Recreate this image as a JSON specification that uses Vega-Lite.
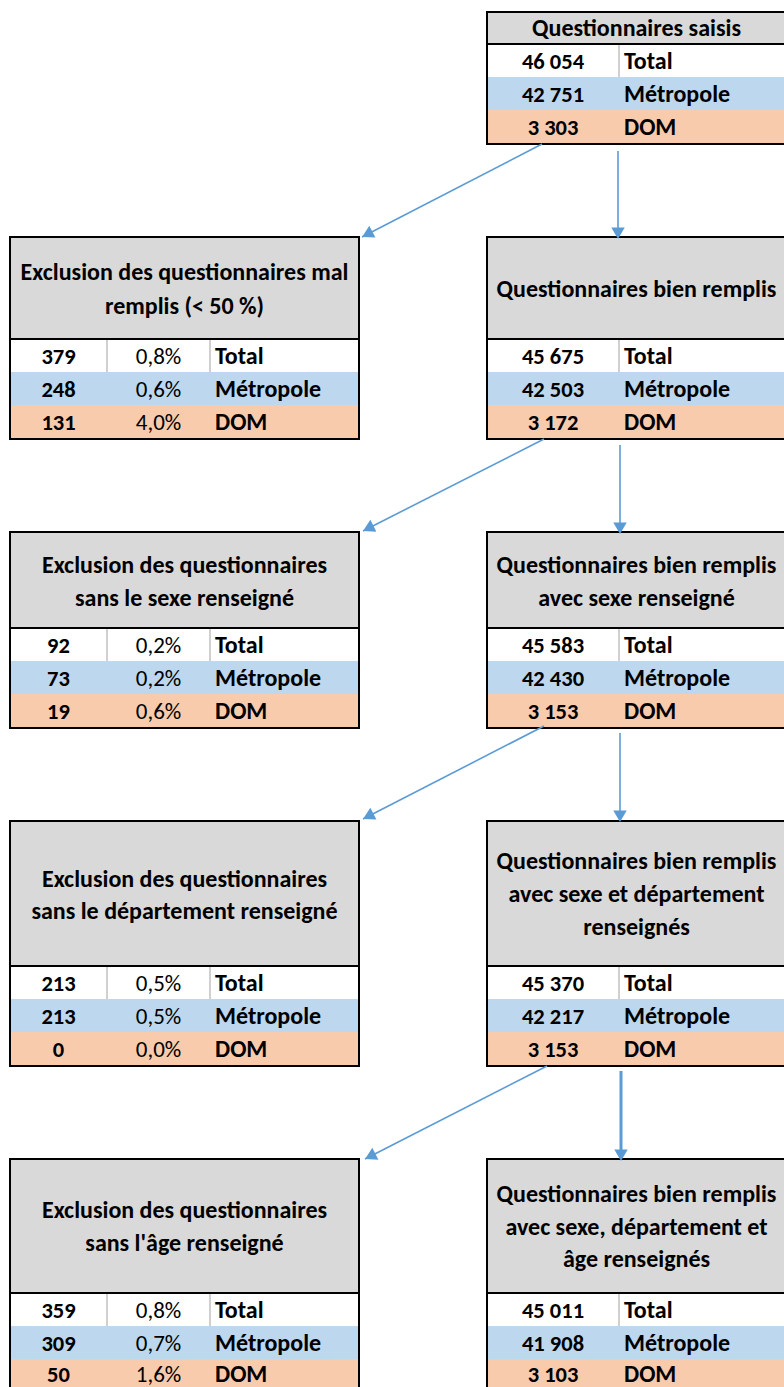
{
  "$schema": "https://vega.github.io/schema/vega-lite/v6.json",
  "width": 784,
  "height": 1387,
  "autosize": "none",
  "padding": 0,
  "background": "white",
  "config": {
    "view": {"stroke": null},
    "locale": {"number": {"decimal": ",", "thousands": " ", "grouping": [3], "currency": ["", " €"]}},
    "text": {"font": "Carlito, Lato", "fontSize": 24, "color": "#000000"}
  },
  "datasets": {
    "cols": [
      {"side": "left", "x0": 10, "x1": 359, "xn": 58.5, "xp": 158.5, "xl": 215, "xh": 184.5, "d1": 107, "d2": 210},
      {"side": "right", "x0": 487, "x1": 786, "xn": 553, "xl": 624, "xh": 636.5, "d1": 619}
    ],
    "boxes": [
      {"stage": 1, "side": "right", "top": 12, "hdr": 44, "bottom": 144},
      {"stage": 2, "side": "left", "top": 237, "hdr": 339, "bottom": 439},
      {"stage": 2, "side": "right", "top": 237, "hdr": 339, "bottom": 439},
      {"stage": 3, "side": "left", "top": 532, "hdr": 628, "bottom": 728},
      {"stage": 3, "side": "right", "top": 532, "hdr": 628, "bottom": 728},
      {"stage": 4, "side": "left", "top": 821, "hdr": 966, "bottom": 1066},
      {"stage": 4, "side": "right", "top": 821, "hdr": 966, "bottom": 1066},
      {"stage": 5, "side": "left", "top": 1159, "hdr": 1293, "bottom": 1392},
      {"stage": 5, "side": "right", "top": 1159, "hdr": 1293, "bottom": 1392}
    ],
    "headers": [
      {"stage": 1, "side": "right", "line": "Questionnaires saisis", "y": 29},
      {"stage": 2, "side": "left", "line": "Exclusion des questionnaires mal", "y": 273},
      {"stage": 2, "side": "left", "line": "remplis (< 50 %)", "y": 307},
      {"stage": 2, "side": "right", "line": "Questionnaires bien remplis", "y": 290},
      {"stage": 3, "side": "left", "line": "Exclusion des questionnaires", "y": 566},
      {"stage": 3, "side": "left", "line": "sans le sexe renseigné", "y": 599},
      {"stage": 3, "side": "right", "line": "Questionnaires bien remplis", "y": 566},
      {"stage": 3, "side": "right", "line": "avec sexe renseigné", "y": 599},
      {"stage": 4, "side": "left", "line": "Exclusion des questionnaires", "y": 880},
      {"stage": 4, "side": "left", "line": "sans le département renseigné", "y": 912},
      {"stage": 4, "side": "right", "line": "Questionnaires bien remplis", "y": 862},
      {"stage": 4, "side": "right", "line": "avec sexe et département", "y": 895},
      {"stage": 4, "side": "right", "line": "renseignés", "y": 928},
      {"stage": 5, "side": "left", "line": "Exclusion des questionnaires", "y": 1211},
      {"stage": 5, "side": "left", "line": "sans l'âge renseigné", "y": 1244},
      {"stage": 5, "side": "right", "line": "Questionnaires bien remplis", "y": 1195},
      {"stage": 5, "side": "right", "line": "avec sexe, département et", "y": 1228},
      {"stage": 5, "side": "right", "line": "âge renseignés", "y": 1260}
    ],
    "figures": [
      {"stage": 1, "side": "right", "region": "Total", "n": 46054, "pct": null, "y0": 44, "y1": 77, "yc": 61.5},
      {"stage": 1, "side": "right", "region": "Métropole", "n": 42751, "pct": null, "y0": 77, "y1": 110, "yc": 94.5},
      {"stage": 1, "side": "right", "region": "DOM", "n": 3303, "pct": null, "y0": 110, "y1": 144, "yc": 128},
      {"stage": 2, "side": "left", "region": "Total", "n": 379, "pct": 0.008, "y0": 339, "y1": 372, "yc": 356.5},
      {"stage": 2, "side": "left", "region": "Métropole", "n": 248, "pct": 0.006, "y0": 372, "y1": 405, "yc": 389.5},
      {"stage": 2, "side": "left", "region": "DOM", "n": 131, "pct": 0.040, "y0": 405, "y1": 439, "yc": 423},
      {"stage": 2, "side": "right", "region": "Total", "n": 45675, "pct": null, "y0": 339, "y1": 372, "yc": 356.5},
      {"stage": 2, "side": "right", "region": "Métropole", "n": 42503, "pct": null, "y0": 372, "y1": 405, "yc": 389.5},
      {"stage": 2, "side": "right", "region": "DOM", "n": 3172, "pct": null, "y0": 405, "y1": 439, "yc": 423},
      {"stage": 3, "side": "left", "region": "Total", "n": 92, "pct": 0.002, "y0": 628, "y1": 661, "yc": 645.5},
      {"stage": 3, "side": "left", "region": "Métropole", "n": 73, "pct": 0.002, "y0": 661, "y1": 694, "yc": 678.5},
      {"stage": 3, "side": "left", "region": "DOM", "n": 19, "pct": 0.006, "y0": 694, "y1": 728, "yc": 712},
      {"stage": 3, "side": "right", "region": "Total", "n": 45583, "pct": null, "y0": 628, "y1": 661, "yc": 645.5},
      {"stage": 3, "side": "right", "region": "Métropole", "n": 42430, "pct": null, "y0": 661, "y1": 694, "yc": 678.5},
      {"stage": 3, "side": "right", "region": "DOM", "n": 3153, "pct": null, "y0": 694, "y1": 728, "yc": 712},
      {"stage": 4, "side": "left", "region": "Total", "n": 213, "pct": 0.005, "y0": 966, "y1": 999, "yc": 984},
      {"stage": 4, "side": "left", "region": "Métropole", "n": 213, "pct": 0.005, "y0": 999, "y1": 1032, "yc": 1017},
      {"stage": 4, "side": "left", "region": "DOM", "n": 0, "pct": 0.0, "y0": 1032, "y1": 1066, "yc": 1050},
      {"stage": 4, "side": "right", "region": "Total", "n": 45370, "pct": null, "y0": 966, "y1": 999, "yc": 984},
      {"stage": 4, "side": "right", "region": "Métropole", "n": 42217, "pct": null, "y0": 999, "y1": 1032, "yc": 1017},
      {"stage": 4, "side": "right", "region": "DOM", "n": 3153, "pct": null, "y0": 1032, "y1": 1066, "yc": 1050},
      {"stage": 5, "side": "left", "region": "Total", "n": 359, "pct": 0.008, "y0": 1293, "y1": 1326, "yc": 1310.5},
      {"stage": 5, "side": "left", "region": "Métropole", "n": 309, "pct": 0.007, "y0": 1326, "y1": 1359, "yc": 1343.5},
      {"stage": 5, "side": "left", "region": "DOM", "n": 50, "pct": 0.016, "y0": 1359, "y1": 1392, "yc": 1374.5},
      {"stage": 5, "side": "right", "region": "Total", "n": 45011, "pct": null, "y0": 1293, "y1": 1326, "yc": 1310.5},
      {"stage": 5, "side": "right", "region": "Métropole", "n": 41908, "pct": null, "y0": 1326, "y1": 1359, "yc": 1343.5},
      {"stage": 5, "side": "right", "region": "DOM", "n": 3103, "pct": null, "y0": 1359, "y1": 1392, "yc": 1374.5}
    ],
    "arrows": [
      {"stage": 1, "dir": "exclusion", "x": 542, "y": 144, "x2": 362, "y2": 237, "hx": 367.2, "hy": 234.3, "heading": 242.7},
      {"stage": 1, "dir": "down", "x": 618, "y": 151, "x2": 618, "y2": 237, "hx": 618, "hy": 233.2, "heading": 180},
      {"stage": 2, "dir": "exclusion", "x": 544, "y": 439, "x2": 363, "y2": 531, "hx": 368.2, "hy": 528.4, "heading": 243.1},
      {"stage": 2, "dir": "down", "x": 620, "y": 445, "x2": 620, "y2": 532, "hx": 620, "hy": 528.2, "heading": 180},
      {"stage": 3, "dir": "exclusion", "x": 544, "y": 726, "x2": 363, "y2": 819, "hx": 368.2, "hy": 816.3, "heading": 242.8},
      {"stage": 3, "dir": "down", "x": 620, "y": 733, "x2": 620, "y2": 820, "hx": 620, "hy": 816.2, "heading": 180},
      {"stage": 4, "dir": "exclusion", "x": 547, "y": 1066, "x2": 365, "y2": 1159, "hx": 370.2, "hy": 1156.4, "heading": 242.9},
      {"stage": 4, "dir": "down", "x": 621, "y": 1071, "x2": 621, "y2": 1158, "hx": 621, "hy": 1155.2, "heading": 180}
    ]
  },
  "layer": [
    {
      "data": {"name": "figures"},
      "transform": [{"lookup": "side", "from": {"data": {"name": "cols"}, "key": "side", "fields": ["x0", "x1"]}}],
      "mark": {"type": "rect", "clip": true},
      "encoding": {
        "x": {"field": "x0", "type": "quantitative", "scale": {"domain": [0, 784], "nice": false, "zero": false}, "axis": null},
        "x2": {"field": "x1"},
        "y": {"field": "y0", "type": "quantitative", "scale": {"domain": [0, 1387], "nice": false, "zero": false, "reverse": true}, "axis": null},
        "y2": {"field": "y1"},
        "color": {"field": "region", "type": "nominal", "scale": {"domain": ["Total", "Métropole", "DOM"], "range": ["#FFFFFF", "#BDD7EE", "#F8CBAD"]}, "legend": null}
      }
    },
    {
      "data": {"name": "boxes"},
      "transform": [{"lookup": "side", "from": {"data": {"name": "cols"}, "key": "side", "fields": ["x0", "x1"]}}],
      "mark": {"type": "rect", "clip": true, "fill": "#D9D9D9"},
      "encoding": {
        "x": {"field": "x0", "type": "quantitative"},
        "x2": {"field": "x1"},
        "y": {"field": "top", "type": "quantitative"},
        "y2": {"field": "hdr"}
      }
    },
    {
      "data": {"name": "figures"},
      "transform": [
        {"filter": "datum.region == 'Total'"},
        {"lookup": "side", "from": {"data": {"name": "cols"}, "key": "side", "fields": ["d1"]}}
      ],
      "mark": {"type": "rule", "clip": true, "color": "#D0D0D0", "strokeWidth": 2},
      "encoding": {
        "x": {"field": "d1", "type": "quantitative"},
        "y": {"field": "y0", "type": "quantitative"},
        "y2": {"field": "y1"}
      }
    },
    {
      "data": {"name": "figures"},
      "transform": [
        {"filter": "datum.region == 'Total' && datum.side == 'left'"},
        {"lookup": "side", "from": {"data": {"name": "cols"}, "key": "side", "fields": ["d2"]}}
      ],
      "mark": {"type": "rule", "clip": true, "color": "#D0D0D0", "strokeWidth": 2},
      "encoding": {
        "x": {"field": "d2", "type": "quantitative"},
        "y": {"field": "y0", "type": "quantitative"},
        "y2": {"field": "y1"}
      }
    },
    {
      "data": {"name": "boxes"},
      "transform": [{"lookup": "side", "from": {"data": {"name": "cols"}, "key": "side", "fields": ["x0", "x1"]}}],
      "mark": {"type": "rule", "clip": true, "color": "#000000", "strokeWidth": 2},
      "encoding": {
        "x": {"field": "x0", "type": "quantitative"},
        "x2": {"field": "x1"},
        "y": {"field": "hdr", "type": "quantitative"}
      }
    },
    {
      "data": {"name": "boxes"},
      "transform": [{"lookup": "side", "from": {"data": {"name": "cols"}, "key": "side", "fields": ["x0", "x1"]}}],
      "mark": {"type": "rect", "clip": true, "fill": null, "fillOpacity": 0, "stroke": "#000000", "strokeWidth": 2},
      "encoding": {
        "x": {"field": "x0", "type": "quantitative"},
        "x2": {"field": "x1"},
        "y": {"field": "top", "type": "quantitative"},
        "y2": {"field": "bottom"}
      }
    },
    {
      "data": {"name": "headers"},
      "transform": [{"lookup": "side", "from": {"data": {"name": "cols"}, "key": "side", "fields": ["xh"]}}],
      "mark": {"type": "text", "fontWeight": "bold", "fontSize": 24, "align": "center", "baseline": "middle"},
      "encoding": {
        "x": {"field": "xh", "type": "quantitative"},
        "y": {"field": "y", "type": "quantitative"},
        "text": {"field": "line", "type": "nominal"}
      }
    },
    {
      "data": {"name": "figures"},
      "transform": [{"lookup": "side", "from": {"data": {"name": "cols"}, "key": "side", "fields": ["xn"]}}],
      "mark": {"type": "text", "fontWeight": "bold", "fontSize": 22.5, "align": "center", "baseline": "middle"},
      "encoding": {
        "x": {"field": "xn", "type": "quantitative"},
        "y": {"field": "yc", "type": "quantitative"},
        "text": {"field": "n", "type": "quantitative", "format": ","}
      }
    },
    {
      "data": {"name": "figures"},
      "transform": [
        {"filter": "datum.pct != null"},
        {"lookup": "side", "from": {"data": {"name": "cols"}, "key": "side", "fields": ["xp"]}}
      ],
      "mark": {"type": "text", "fontWeight": "normal", "fontSize": 23, "align": "center", "baseline": "middle"},
      "encoding": {
        "x": {"field": "xp", "type": "quantitative"},
        "y": {"field": "yc", "type": "quantitative"},
        "text": {"field": "pct", "type": "quantitative", "format": ".1%"}
      }
    },
    {
      "data": {"name": "figures"},
      "transform": [{"lookup": "side", "from": {"data": {"name": "cols"}, "key": "side", "fields": ["xl"]}}],
      "mark": {"type": "text", "fontWeight": "bold", "fontSize": 24, "align": "left", "baseline": "middle"},
      "encoding": {
        "x": {"field": "xl", "type": "quantitative"},
        "y": {"field": "yc", "type": "quantitative"},
        "text": {"field": "region", "type": "nominal"}
      }
    },
    {
      "data": {"name": "arrows"},
      "mark": {"type": "rule", "color": "#5B9BD5", "clip": true},
      "encoding": {
        "x": {"field": "x", "type": "quantitative"},
        "y": {"field": "y", "type": "quantitative"},
        "x2": {"field": "x2"},
        "y2": {"field": "y2"},
        "strokeWidth": {"condition": {"test": "datum.stage == 4 && datum.dir == 'down'", "value": 3}, "value": 1.6}
      }
    },
    {
      "data": {"name": "arrows"},
      "mark": {"type": "point", "shape": "triangle-up", "filled": true, "color": "#5B9BD5", "opacity": 1, "size": 180, "strokeWidth": 0, "clip": true},
      "encoding": {
        "x": {"field": "hx", "type": "quantitative"},
        "y": {"field": "hy", "type": "quantitative"},
        "angle": {"field": "heading", "type": "quantitative", "scale": null}
      }
    }
  ]
}
